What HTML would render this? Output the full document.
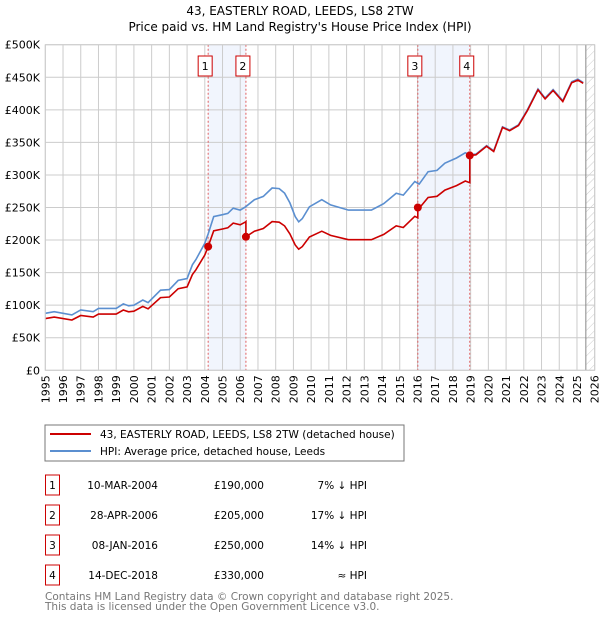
<!DOCTYPE html>
<html><head><meta charset="utf-8"><style>
body{margin:0;background:#fff;font-family:"Liberation Sans","DejaVu Sans",sans-serif;}
svg text{font-family:"DejaVu Sans","Liberation Sans",sans-serif;}
</style></head><body>
<svg id="c" width="600" height="620" viewBox="0 0 600 620" xmlns="http://www.w3.org/2000/svg">
<defs><pattern id="hatch" width="6" height="6" patternUnits="userSpaceOnUse" patternTransform="rotate(45)"><line x1="0" y1="0" x2="0" y2="6" stroke="#ccc" stroke-width="1"/></pattern></defs>
<text x="300" y="15" text-anchor="middle" font-size="12">43, EASTERLY ROAD, LEEDS, LS8 2TW</text>
<text x="300" y="31" text-anchor="middle" font-size="12">Price paid vs. HM Land Registry's House Price Index (HPI)</text>
<g id="plot"></g>
<rect x="45" y="425" width="359" height="36" fill="#fff" stroke="#777"/>
<line x1="50" y1="434" x2="91" y2="434" stroke="#cc0000" stroke-width="2"/>
<text x="100" y="438" font-size="10.5">43, EASTERLY ROAD, LEEDS, LS8 2TW (detached house)</text>
<line x1="50" y1="451" x2="91" y2="451" stroke="#5b8fd0" stroke-width="2"/>
<text x="100" y="455" font-size="10.5">HPI: Average price, detached house, Leeds</text>
<g id="table" font-size="10.5"></g>
<text x="45" y="600" font-size="10.5" fill="#777">Contains HM Land Registry data © Crown copyright and database right 2025.</text>
<text x="45" y="610" font-size="10.5" fill="#777">This data is licensed under the Open Government Licence v3.0.</text>
</svg>
<script>
const hpiYears=[1995.0,1995.5,1996.5,1997.0,1997.7,1998.0,1999.0,1999.4,1999.7,2000.0,2000.5,2000.8,2001.5,2002.0,2002.5,2003.0,2003.3,2003.5,2004.0,2004.2,2004.5,2005.0,2005.3,2005.6,2006.0,2006.3,2006.8,2007.3,2007.8,2008.2,2008.5,2008.8,2009.1,2009.3,2009.5,2009.9,2010.6,2011.1,2012.1,2012.9,2013.4,2014.1,2014.8,2015.2,2015.85,2016.1,2016.6,2017.1,2017.55,2018.2,2018.7,2018.95,2019.3,2019.9,2020.3,2020.8,2021.2,2021.7,2022.2,2022.8,2023.2,2023.65,2024.2,2024.7,2025.05,2025.35];
const hpiValues=[87.5,90,85,92.7,90,95,95,102,99,100,108,104,123,124,138,141,162,170,195,210,236,239,241,249,246,251,262,267,280,279,272,257,236,228,233,251,262,254,246,246,246,256,272,269,290,286,305,307,318,326,334,331,332,345,337,374,369,377,400,432,418,431,414,443,447,442];
const saleLabels=["1","2","3","4"];
const saleYears=[2004.19,2006.32,2016.02,2018.95];
const salePrices=[190,205,250,330];
const saleDates=["10-MAR-2004","28-APR-2006","08-JAN-2016","14-DEC-2018"];
const salePriceText=["£190,000","£205,000","£250,000","£330,000"];
const saleDiff=["7% ↓ HPI","17% ↓ HPI","14% ↓ HPI","≈ HPI"];
const yTicks=[0,50,100,150,200,250,300,350,400,450,500];
const yTickLabels=["£0","£50K","£100K","£150K","£200K","£250K","£300K","£350K","£400K","£450K","£500K"];
const xTicks=[1995,1996,1997,1998,1999,2000,2001,2002,2003,2004,2005,2006,2007,2008,2009,2010,2011,2012,2013,2014,2015,2016,2017,2018,2019,2020,2021,2022,2023,2024,2025,2026];

const X0=45.3,X1=594.7,Y0=370.3,Y1=44.7;
const xs=y=>X0+(y-1995)/(2026-1995)*(X1-X0);
const ys=v=>Y0-v/500*(Y0-Y1);
const NS="http://www.w3.org/2000/svg";
const plot=document.getElementById('plot');
function mk(tag,attrs,parent){const e=document.createElementNS(NS,tag);for(const k in attrs)e.setAttribute(k,attrs[k]);(parent||plot).appendChild(e);return e;}
function hpiAt(t){for(let i=0;i<hpiYears.length-1;i++){if(t<=hpiYears[i+1]){const f=(t-hpiYears[i])/(hpiYears[i+1]-hpiYears[i]);return hpiValues[i]+f*(hpiValues[i+1]-hpiValues[i]);}}return hpiValues[hpiValues.length-1];}

// bands
for(const [a,b] of [[0,1],[2,3]]){
 const r=mk('rect',{x:xs(saleYears[a]),y:Y1,width:xs(saleYears[b])-xs(saleYears[a]),height:Y0-Y1,fill:'#eef3fc',opacity:0.8});
 
 
}
// hatch future
const hz=mk('rect',{x:xs(2025.5),y:Y1,width:X1-xs(2025.5),height:Y0-Y1,fill:'url(#hatch)'});


// grid
yTicks.forEach((v,i)=>{
 const l=mk('line',{x1:X0,x2:X1,y1:ys(v),y2:ys(v),stroke:'#ccc','stroke-width':1});
 
 
 const t=mk('text',{x:40,y:ys(v)+4,'text-anchor':'end','font-size':11});
 t.textContent=yTickLabels[i];
 
 
});
xTicks.forEach(y=>{
 const l=mk('line',{x1:xs(y),x2:xs(y),y1:Y1,y2:Y0,stroke:'#ccc','stroke-width':1});
 
 
 const t=mk('text',{x:0,y:0,'text-anchor':'end','font-size':11,transform:`translate(${xs(y)+4},${Y0+5}) rotate(-90)`});
 t.textContent=y;
 
 
});
const vl=mk('line',{x1:xs(2025.5),x2:xs(2025.5),y1:Y1,y2:Y0,stroke:'#888','stroke-width':1});


// sale lines & labels
saleYears.forEach((s,i)=>{
 const l=mk('line',{x1:xs(s),x2:xs(s),y1:Y1,y2:Y0,stroke:'#e06060','stroke-width':1,'stroke-dasharray':'2,2'});
 
 
 const b=mk('rect',{x:xs(s)-10,y:56,width:14,height:20,fill:'#fff',stroke:'#cc0000'});
 
 
 const t=mk('text',{x:xs(s)-3,y:70,'text-anchor':'middle','font-size':11});
 t.textContent=saleLabels[i];
 
 
});
// hpi line
let d='';
hpiYears.forEach((y,i)=>{d+=(i?'L':'M')+xs(y).toFixed(1)+','+ys(hpiValues[i]).toFixed(1);});
const hp=mk('path',{d:d,fill:'none',stroke:'#5b8fd0','stroke-width':1.6});


// property line: HPI indexed to most recent sale
function factor(t){let k=0;for(let i=0;i<saleYears.length;i++)if(t>=saleYears[i])k=i;return salePrices[k]/hpiAt(saleYears[k]);}
let pts=[];
const allT=hpiYears.concat(saleYears).sort((a,b)=>a-b);
allT.forEach(t=>{
 const i=saleYears.indexOf(t);
 if(i>0){pts.push([t,hpiAt(t)*salePrices[i-1]/hpiAt(saleYears[i-1])]);}
 pts.push([t,hpiAt(t)*factor(t)]);
});
let d2='';pts.forEach((p,i)=>{d2+=(i?'L':'M')+xs(p[0]).toFixed(1)+','+ys(p[1]).toFixed(1);});
const pp=mk('path',{d:d2,fill:'none',stroke:'#cc0000','stroke-width':1.6});


saleYears.forEach((s,i)=>{
 const c=mk('circle',{cx:xs(s),cy:ys(salePrices[i]),r:4,fill:'#cc0000'});
 
 
});
mk('rect',{x:X0,y:Y1,width:X1-X0,height:Y0-Y1,fill:'none',stroke:'#ccc'});
// table
const tb=document.getElementById('table');
saleLabels.forEach((lab,i)=>{
 const y=485+i*30;
 const b=mk('rect',{x:45.5,y:y-10,width:14,height:20,fill:'#fff',stroke:'#cc0000'},tb);
 
 
 const t0=mk('text',{x:52.5,y:y+4,'text-anchor':'middle'},tb);t0.textContent=lab;
 
 
 const t1=mk('text',{x:158,y:y+4,'text-anchor':'end'},tb);t1.textContent=saleDates[i];
 
 
 const t2=mk('text',{x:264,y:y+4,'text-anchor':'end'},tb);t2.textContent=salePriceText[i];
 
 
 const t3=mk('text',{x:367,y:y+4,'text-anchor':'end'},tb);t3.textContent=saleDiff[i];
 
 
});
</script>
</body></html>
